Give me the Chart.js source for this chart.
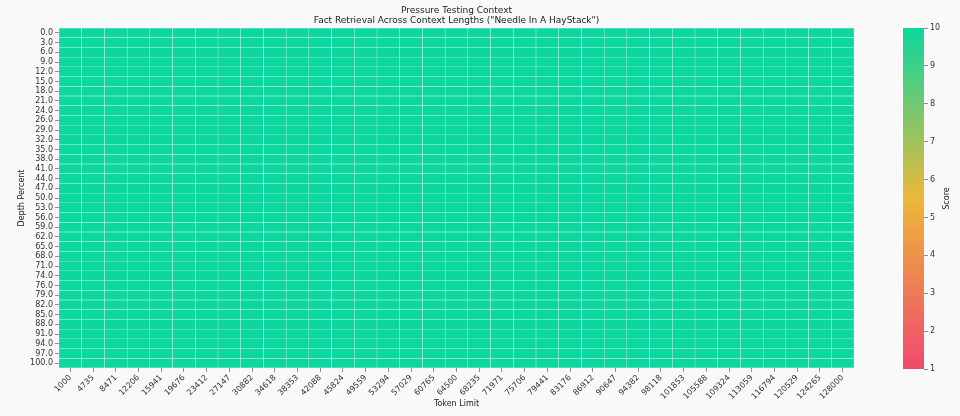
<!DOCTYPE html>
<html>
<head>
<meta charset="utf-8">
<script src="https://cdn.jsdelivr.net/npm/chart.js@4.4.1/dist/chart.umd.min.js"></script>
<style>
  html, body { margin: 0; padding: 0; background: #f9f9f9; }
  #wrap { position: relative; width: 960px; height: 416px; }
  #heat { position: absolute; left: 0; top: 0; }
  #cbar { position: absolute; left: 880px; top: 0; }
</style>
</head>
<body>
<div id="wrap">
  <canvas id="heat" width="880" height="416"></canvas>
  <canvas id="cbar" width="80" height="416"></canvas>
</div>
<script>
// Data
const tokenLimits = [1000, 4735, 8471, 12206, 15941, 19676, 23412, 27147, 30882, 34618,
  38353, 42088, 45824, 49559, 53294, 57029, 60765, 64500, 68235, 71971, 75706, 79441,
  83176, 86912, 90647, 94382, 98118, 101853, 105588, 109324, 113059, 116794, 120529,
  124265, 128000];
const depthPercents = [0, 3, 6, 9, 12, 15, 18, 21, 24, 26, 29, 32, 35, 38, 41, 44, 47, 50,
  53, 56, 59, 62, 65, 68, 71, 74, 76, 79, 82, 85, 88, 91, 94, 97, 100];
// one row per depth, one value per token limit
const scores = [
  [10,10,10,10,10, 10,10,10,10,10, 10,10,10,10,10, 10,10,10,10,10, 10,10,10,10,10, 10,10,10,10,10, 10,10,10,10,10],
  [10,10,10,10,10, 10,10,10,10,10, 10,10,10,10,10, 10,10,10,10,10, 10,10,10,10,10, 10,10,10,10,10, 10,10,10,10,10],
  [10,10,10,10,10, 10,10,10,10,10, 10,10,10,10,10, 10,10,10,10,10, 10,10,10,10,10, 10,10,10,10,10, 10,10,10,10,10],
  [10,10,10,10,10, 10,10,10,10,10, 10,10,10,10,10, 10,10,10,10,10, 10,10,10,10,10, 10,10,10,10,10, 10,10,10,10,10],
  [10,10,10,10,10, 10,10,10,10,10, 10,10,10,10,10, 10,10,10,10,10, 10,10,10,10,10, 10,10,10,10,10, 10,10,10,10,10],
  [10,10,10,10,10, 10,10,10,10,10, 10,10,10,10,10, 10,10,10,10,10, 10,10,10,10,10, 10,10,10,10,10, 10,10,10,10,10],
  [10,10,10,10,10, 10,10,10,10,10, 10,10,10,10,10, 10,10,10,10,10, 10,10,10,10,10, 10,10,10,10,10, 10,10,10,10,10],
  [10,10,10,10,10, 10,10,10,10,10, 10,10,10,10,10, 10,10,10,10,10, 10,10,10,10,10, 10,10,10,10,10, 10,10,10,10,10],
  [10,10,10,10,10, 10,10,10,10,10, 10,10,10,10,10, 10,10,10,10,10, 10,10,10,10,10, 10,10,10,10,10, 10,10,10,10,10],
  [10,10,10,10,10, 10,10,10,10,10, 10,10,10,10,10, 10,10,10,10,10, 10,10,10,10,10, 10,10,10,10,10, 10,10,10,10,10],
  [10,10,10,10,10, 10,10,10,10,10, 10,10,10,10,10, 10,10,10,10,10, 10,10,10,10,10, 10,10,10,10,10, 10,10,10,10,10],
  [10,10,10,10,10, 10,10,10,10,10, 10,10,10,10,10, 10,10,10,10,10, 10,10,10,10,10, 10,10,10,10,10, 10,10,10,10,10],
  [10,10,10,10,10, 10,10,10,10,10, 10,10,10,10,10, 10,10,10,10,10, 10,10,10,10,10, 10,10,10,10,10, 10,10,10,10,10],
  [10,10,10,10,10, 10,10,10,10,10, 10,10,10,10,10, 10,10,10,10,10, 10,10,10,10,10, 10,10,10,10,10, 10,10,10,10,10],
  [10,10,10,10,10, 10,10,10,10,10, 10,10,10,10,10, 10,10,10,10,10, 10,10,10,10,10, 10,10,10,10,10, 10,10,10,10,10],
  [10,10,10,10,10, 10,10,10,10,10, 10,10,10,10,10, 10,10,10,10,10, 10,10,10,10,10, 10,10,10,10,10, 10,10,10,10,10],
  [10,10,10,10,10, 10,10,10,10,10, 10,10,10,10,10, 10,10,10,10,10, 10,10,10,10,10, 10,10,10,10,10, 10,10,10,10,10],
  [10,10,10,10,10, 10,10,10,10,10, 10,10,10,10,10, 10,10,10,10,10, 10,10,10,10,10, 10,10,10,10,10, 10,10,10,10,10],
  [10,10,10,10,10, 10,10,10,10,10, 10,10,10,10,10, 10,10,10,10,10, 10,10,10,10,10, 10,10,10,10,10, 10,10,10,10,10],
  [10,10,10,10,10, 10,10,10,10,10, 10,10,10,10,10, 10,10,10,10,10, 10,10,10,10,10, 10,10,10,10,10, 10,10,10,10,10],
  [10,10,10,10,10, 10,10,10,10,10, 10,10,10,10,10, 10,10,10,10,10, 10,10,10,10,10, 10,10,10,10,10, 10,10,10,10,10],
  [10,10,10,10,10, 10,10,10,10,10, 10,10,10,10,10, 10,10,10,10,10, 10,10,10,10,10, 10,10,10,10,10, 10,10,10,10,10],
  [10,10,10,10,10, 10,10,10,10,10, 10,10,10,10,10, 10,10,10,10,10, 10,10,10,10,10, 10,10,10,10,10, 10,10,10,10,10],
  [10,10,10,10,10, 10,10,10,10,10, 10,10,10,10,10, 10,10,10,10,10, 10,10,10,10,10, 10,10,10,10,10, 10,10,10,10,10],
  [10,10,10,10,10, 10,10,10,10,10, 10,10,10,10,10, 10,10,10,10,10, 10,10,10,10,10, 10,10,10,10,10, 10,10,10,10,10],
  [10,10,10,10,10, 10,10,10,10,10, 10,10,10,10,10, 10,10,10,10,10, 10,10,10,10,10, 10,10,10,10,10, 10,10,10,10,10],
  [10,10,10,10,10, 10,10,10,10,10, 10,10,10,10,10, 10,10,10,10,10, 10,10,10,10,10, 10,10,10,10,10, 10,10,10,10,10],
  [10,10,10,10,10, 10,10,10,10,10, 10,10,10,10,10, 10,10,10,10,10, 10,10,10,10,10, 10,10,10,10,10, 10,10,10,10,10],
  [10,10,10,10,10, 10,10,10,10,10, 10,10,10,10,10, 10,10,10,10,10, 10,10,10,10,10, 10,10,10,10,10, 10,10,10,10,10],
  [10,10,10,10,10, 10,10,10,10,10, 10,10,10,10,10, 10,10,10,10,10, 10,10,10,10,10, 10,10,10,10,10, 10,10,10,10,10],
  [10,10,10,10,10, 10,10,10,10,10, 10,10,10,10,10, 10,10,10,10,10, 10,10,10,10,10, 10,10,10,10,10, 10,10,10,10,10],
  [10,10,10,10,10, 10,10,10,10,10, 10,10,10,10,10, 10,10,10,10,10, 10,10,10,10,10, 10,10,10,10,10, 10,10,10,10,10],
  [10,10,10,10,10, 10,10,10,10,10, 10,10,10,10,10, 10,10,10,10,10, 10,10,10,10,10, 10,10,10,10,10, 10,10,10,10,10],
  [10,10,10,10,10, 10,10,10,10,10, 10,10,10,10,10, 10,10,10,10,10, 10,10,10,10,10, 10,10,10,10,10, 10,10,10,10,10],
  [10,10,10,10,10, 10,10,10,10,10, 10,10,10,10,10, 10,10,10,10,10, 10,10,10,10,10, 10,10,10,10,10, 10,10,10,10,10],
];
const scoreTicks = [1, 2, 3, 4, 5, 6, 7, 8, 9, 10];
const scoreMin = 1;
const scoreMax = 10;
const cmapColors = ['#F0496E', '#EBB839', '#0CD79F'];

const FONT = 'DejaVu Sans';
const TXT = '#333';
const TICK = '#777';

// colour map: red -> yellow -> green
function hexToRgb(h) {
  return [1, 3, 5].map(k => parseInt(h.slice(k, k + 2), 16));
}
function scoreColor(v) {
  let t = (v - scoreMin) / (scoreMax - scoreMin);
  t = Math.max(0, Math.min(1, t)) * (cmapColors.length - 1);
  const k = Math.min(Math.floor(t), cmapColors.length - 2);
  const f = t - k;
  const a = hexToRgb(cmapColors[k]), b = hexToRgb(cmapColors[k + 1]);
  const c = a.map((x, i) => Math.round(x + (b[i] - x) * f));
  return `rgb(${c[0]}, ${c[1]}, ${c[2]})`;
}

// Heatmap: one floating-bar dataset per depth row
const heatDatasets = depthPercents.map((d, i) => ({
  label: d.toFixed(1),
  data: tokenLimits.map(() => [i, i + 1]),
  backgroundColor: scores[i].map(scoreColor),
  borderColor: 'rgba(255, 255, 255, 0.07)',
  borderWidth: 0.5,
  borderSkipped: false,
  grouped: false,
  barPercentage: 1,
  categoryPercentage: 1,
}));

new Chart(document.getElementById('heat'), {
  type: 'bar',
  data: {
    labels: tokenLimits.map(String),
    datasets: heatDatasets,
  },
  options: {
    responsive: false,
    animation: false,
    layout: { padding: { left: 0, right: 26, top: 0, bottom: 0 } },
    plugins: {
      legend: { display: false },
      tooltip: { enabled: false },
      title: {
        display: true,
        fullSize: false,
        text: ['Pressure Testing Context', 'Fact Retrieval Across Context Lengths ("Needle In A HayStack")'],
        color: '#222',
        font: { family: FONT, size: 9, weight: 'normal', lineHeight: 1.1 },
        padding: { top: 6, bottom: 2.2 },
      },
    },
    scales: {
      x: {
        offset: true,
        grid: { offset: false, drawOnChartArea: false, tickLength: 4, tickColor: TICK, tickWidth: 0.8 },
        border: { display: false },
        ticks: { color: TXT, font: { family: FONT, size: 8 }, minRotation: 45, maxRotation: 45, autoSkip: false, padding: 1 },
        title: { display: true, text: 'Token Limit', color: '#222', font: { family: FONT, size: 8 }, padding: { top: 0, bottom: 7 } },
        afterFit: s => { s.height = 48; },
      },
      y: {
        type: 'linear',
        min: 0,
        max: depthPercents.length,
        reverse: true,
        afterBuildTicks: s => { s.ticks = depthPercents.map((d, i) => ({ value: i + 0.5 })); },
        grid: { drawOnChartArea: false, tickLength: 4, tickColor: TICK, tickWidth: 0.8 },
        border: { display: false },
        ticks: {
          color: TXT,
          font: { family: FONT, size: 8 },
          autoSkip: false,
          padding: 2,
          callback: (v, idx) => depthPercents[idx].toFixed(1),
        },
        title: { display: true, text: 'Depth Percent', color: '#222', font: { family: FONT, size: 8 }, padding: { top: 17, bottom: 0 } },
        afterFit: s => { s.width = 59; },
      },
    },
  },
});

// Colorbar
const scoreLabel = {
  id: 'scoreLabel',
  afterDraw(chart) {
    const { ctx, chartArea } = chart;
    ctx.save();
    ctx.translate(67, (chartArea.top + chartArea.bottom) / 2);
    ctx.rotate(-Math.PI / 2);
    ctx.fillStyle = '#222';
    ctx.font = `8px "${FONT}"`;
    ctx.textAlign = 'center';
    ctx.textBaseline = 'middle';
    ctx.fillText('Score', 0, 0);
    ctx.restore();
  },
};

new Chart(document.getElementById('cbar'), {
  type: 'bar',
  data: {
    labels: ['Score'],
    datasets: [{
      data: [[scoreMin, scoreMax]],
      backgroundColor: c => {
        const { chart } = c;
        if (!chart.chartArea) return cmapColors[0];
        const ys = chart.scales.y;
        const g = chart.ctx.createLinearGradient(0, ys.getPixelForValue(scoreMin), 0, ys.getPixelForValue(scoreMax));
        cmapColors.forEach((col, k) => g.addColorStop(k / (cmapColors.length - 1), col));
        return g;
      },
      borderWidth: 0,
      barPercentage: 1,
      categoryPercentage: 1,
    }],
  },
  options: {
    responsive: false,
    animation: false,
    layout: { padding: { left: 23, right: 0, top: 28, bottom: 47 } },
    plugins: { legend: { display: false }, tooltip: { enabled: false } },
    scales: {
      x: { display: false },
      y: {
        position: 'right',
        min: scoreMin,
        max: scoreMax,
        afterBuildTicks: s => { s.ticks = scoreTicks.map(v => ({ value: v })); },
        grid: { drawOnChartArea: false, tickLength: 4, tickColor: TICK, tickWidth: 0.8 },
        border: { display: false },
        ticks: { color: TXT, font: { family: FONT, size: 8 }, padding: 2 },
        afterFit: s => { s.width = 36; },
      },
    },
  },
  plugins: [scoreLabel],
});
</script>
</body>
</html>
